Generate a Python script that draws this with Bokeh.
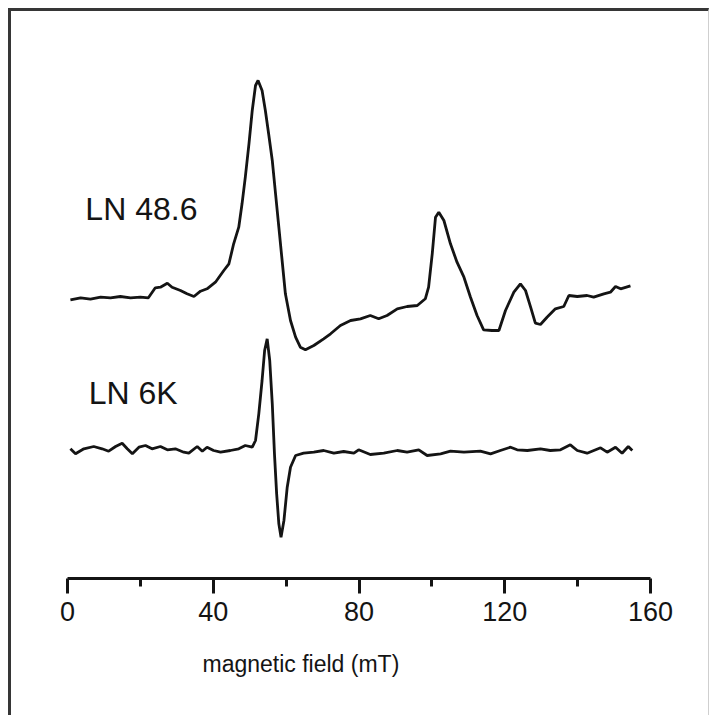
import numpy as np
from bokeh.plotting import figure
from bokeh.models import Range1d, FixedTicker, Title
from bokeh.core.properties import value
from bokeh.embed import file_html
from bokeh.resources import INLINE

# ---- data (magnetic field in mT, EPR signal in arbitrary units) ----
field_486 = [0.8, 3.6, 6.3, 9.1, 11.8, 14.5, 17.3, 20.0, 22.2, 24.1, 25.5, 27.4, 28.7, 31.0, 32.8,
             34.7, 36.5, 38.3, 40.6, 42.9, 44.3, 45.6, 47.0, 47.9, 48.8, 49.8, 50.7, 51.6, 52.3,
             53.4, 54.3, 55.2, 56.2, 57.1, 58.0, 58.9, 59.8, 61.2, 62.6, 63.9, 65.3, 67.6, 70.3,
             72.2, 74.9, 77.7, 80.4, 83.1, 85.4, 87.7, 90.5, 93.2, 96.0, 98.2, 99.1, 100.1, 101.0,
             101.9, 103.3, 105.1, 106.9, 108.8, 110.6, 112.4, 114.2, 116.5, 118.4, 120.2, 122.5,
             124.3, 125.7, 127.1, 128.4, 129.8, 131.6, 133.9, 136.2, 137.6, 139.9, 142.6, 144.4,
             147.2, 149.0, 150.4, 151.8, 154.5]
signal_486 = [-1.3, 0.7, -0.7, 1.3, 0.7, 2, 0.7, 1.3, 0.7, 10.7, 11.3, 15.3, 11.3, 8, 4.7,
              2, 7.3, 9.7, 16.3, 28, 34.7, 54.7, 71.3, 94.7, 121.3, 154.7, 188, 213, 218,
              208, 188, 164.7, 138, 104.7, 71.3, 38, 4.7, -22, -38.7, -48.7, -51.3, -47, -40.3,
              -35.3, -27, -22, -20.3, -17, -20.3, -17, -10.3, -8, -7, -0.3, 11.3, 44.7, 81.3,
              86.3, 78, 54.7, 36.3, 21.3, 1.3, -17, -31.3, -32, -32, -12, 6.3,
              14.7, 8, -8.7, -24.7, -26, -18.7, -10.3, -8, 3, 2, 3, 1.3,
              4.7, 6.3, 12, 9.7, 12.7]

field_6k = [0.8, 2.2, 4.5, 7.2, 9.5, 11.3, 13.2, 15.0, 16.4, 17.8, 19.6, 21.4, 23.2, 25.5, 27.4,
            29.6, 31.9, 33.3, 35.6, 37.0, 38.3, 40.1, 42.0, 44.7, 47.0, 48.8, 50.7, 51.6, 52.5,
            53.4, 54.1, 54.8, 55.5, 56.2, 56.8, 57.4, 58.0, 58.6, 59.4, 60.3, 61.2, 62.6, 64.8,
            67.6, 70.3, 73.1, 75.8, 78.6, 79.9, 83.1, 86.8, 90.5, 93.2, 96.4, 98.7, 102.4, 105.1,
            108.8, 113.3, 116.1, 118.8, 121.6, 123.4, 126.2, 129.8, 132.5, 135.3, 138.0, 139.9,
            142.6, 146.3, 148.1, 150.4, 152.2, 153.9, 155.0]
signal_6k = [0.7, -4.3, 0.7, 3, 0.7, -1.7, 3, 6.3, 0.7, -4.3, 2.3, 4, 0.7, 3, -0.3,
             0.7, -2.7, -3.7, 3, -1.7, 2.3, -1, -2.7, -1, 0.7, 4, 2.3, 9, 35.7,
             69, 99, 110.7, 89, 45.7, -4.3, -44.3, -74.3, -87.7, -71, -37.7, -17.7, -6, -3.7,
             -2.7, -1, -3.7, -2, -3.7, -0.3, -5, -3.7, -1, -2.7, -0.3, -6, -4.3, -1.7,
             -2.7, -1.7, -4.3, -1, 2.3, -0.3, -1, 0.7, -1, -0.3, 4.7, -1,
             -3.7, 1.7, -2.7, 2.3, -3.7, 3, -1]

major_ticks = [0, 40, 80, 120, 160]
minor_ticks = [20, 60, 100, 140]
series_labels = ["LN 48.6", "LN 6K"]
x_title = "magnetic field (mT)"

# vertical stacking offsets of the two spectra (layout only)
offset_486 = 280
offset_6k = 129

FONT = "Liberation Sans"
INK = "#141414"

p = figure(width=701, height=707, output_backend="svg", toolbar_location=None,
           x_range=Range1d(0, 160), y_range=Range1d(0, 567),
           min_border_left=56, min_border_right=62, min_border_top=0, min_border_bottom=140,
           y_axis_type=None)
p.styles = {"border-style": "solid",
            "border-color": "#363636 #cfcfcf #363636 #363636",
            "border-width": "3px 1px 0px 3px",
            "margin-top": "8px", "margin-left": "8px"}
p.outline_line_color = None
p.xgrid.visible = False
p.ygrid.visible = False
p.background_fill_color = "white"
p.border_fill_color = "white"

p.line(field_486, np.array(signal_486) + offset_486, line_width=2.8, line_color=INK)
p.line(field_6k, np.array(signal_6k) + offset_6k, line_width=2.8, line_color=INK)

p.text(x=[4.9], y=[370], text=[series_labels[0]], text_font=value(FONT), text_font_size="32px",
       text_color=INK, text_baseline="alphabetic", text_align="left")
p.text(x=[5.8], y=[186], text=[series_labels[1]], text_font=value(FONT), text_font_size="32px",
       text_color=INK, text_baseline="alphabetic", text_align="left")

ax = p.xaxis[0]
ax.ticker = FixedTicker(ticks=major_ticks, minor_ticks=minor_ticks)
ax.axis_line_width = 3
ax.axis_line_color = INK
ax.major_tick_line_width = 3
ax.major_tick_line_color = INK
ax.minor_tick_line_width = 3
ax.minor_tick_line_color = INK
ax.major_tick_in = 0
ax.major_tick_out = 15
ax.minor_tick_in = 0
ax.minor_tick_out = 8
ax.major_label_text_font = FONT
ax.major_label_text_font_size = "27px"
ax.major_label_text_color = INK
ax.major_label_standoff = 8
ax.axis_label = None

t = Title(text=x_title, align="left", offset=135, text_font=FONT, text_font_size="23px",
          text_font_style="normal", text_color=INK, standoff=50)
p.add_layout(t, "below")

open("out.html", "w").write(file_html(p, INLINE))
